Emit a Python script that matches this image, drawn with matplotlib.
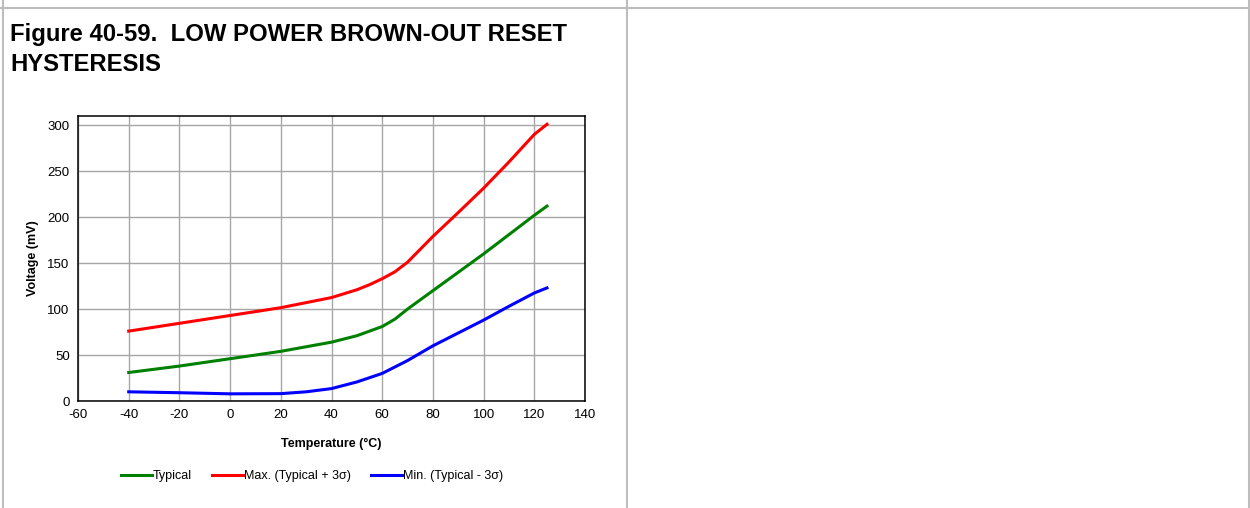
import matplotlib
matplotlib.use("Agg")
import matplotlib.pyplot as plt
from matplotlib.lines import Line2D

plt.rcParams['font.family'] = ['Liberation Sans', 'DejaVu Sans']
plt.rcParams['axes.unicode_minus'] = False

# --- values ---
temp_typ = [-40, -20, 0, 20, 40, 50, 60, 65, 70, 75, 80, 90, 100, 110, 120, 125]
typical = [31, 38, 46, 54, 64, 71, 81, 89, 100, 110, 120, 140, 160, 181, 202, 212]

temp_max = [-40, -20, 0, 20, 40, 50, 55, 60, 65, 70, 75, 80, 90, 100, 110, 120, 125]
maximum = [76, 84.5, 93, 101.5, 112.5, 121, 126.5, 133, 140.5, 151, 165, 179, 205, 231.5, 260, 290, 301]

temp_min = [-40, -20, 0, 20, 30, 40, 50, 60, 70, 75, 80, 90, 100, 110, 120, 125]
minimum = [10, 9, 7.8, 8, 10, 13.5, 20.7, 30, 44, 52, 60, 74, 88, 103, 117.5, 123]

labels = ["Typical", "Max. (Typical + 3\u03c3)", "Min. (Typical - 3\u03c3)"]
colors = ["#008000", "#ff0000", "#0000ff"]

fig = plt.figure(figsize=(12.5, 5.08), dpi=100)

# page frame (table cell borders)
frame_c = "#bdbdbd"
fig.add_artist(Line2D([0, 1], [0.984, 0.984], color=frame_c, lw=1.5))
for xf in [3 / 1250, 627 / 1250, 1249 / 1250]:
    fig.add_artist(Line2D([xf, xf], [0, 1], color=frame_c, lw=1.5))

fig.text(10 / 1250, 1 - 23 / 508, "Figure 40-59.  LOW POWER BROWN-OUT RESET\nHYSTERESIS",
         fontsize=17.2, fontweight='bold', ha='left', va='top', linespacing=1.38)

ax = fig.add_axes([78 / 1250, 1 - 401 / 508, 507 / 1250, 285 / 508])
ax.plot(temp_typ, typical, color=colors[0], lw=2.2, label=labels[0])
ax.plot(temp_max, maximum, color=colors[1], lw=2.2, label=labels[1])
ax.plot(temp_min, minimum, color=colors[2], lw=2.2, label=labels[2])

ax.set_xlim(-60, 140)
ax.set_ylim(0, 310)
ax.set_xticks(range(-60, 141, 20))
ax.set_yticks(range(0, 301, 50))
ax.grid(True, color="#a6a6a6", lw=1.0)
ax.set_axisbelow(True)
ax.tick_params(length=0, labelsize=9.5, pad=6)
for s in ax.spines.values():
    s.set_color("black")
    s.set_linewidth(1.1)

ax.set_xlabel("Temperature (\u00b0C)", fontsize=9, fontweight='bold', labelpad=12)
ax.set_ylabel("Voltage (mV)", fontsize=9, fontweight='bold', labelpad=6)

fig.legend(loc='center', bbox_to_anchor=(312 / 1250, 1 - 476 / 508), ncol=3,
           frameon=False, fontsize=9, handlelength=2.5, handletextpad=0.05,
           columnspacing=1.6)

fig.savefig("out.png", dpi=100)
